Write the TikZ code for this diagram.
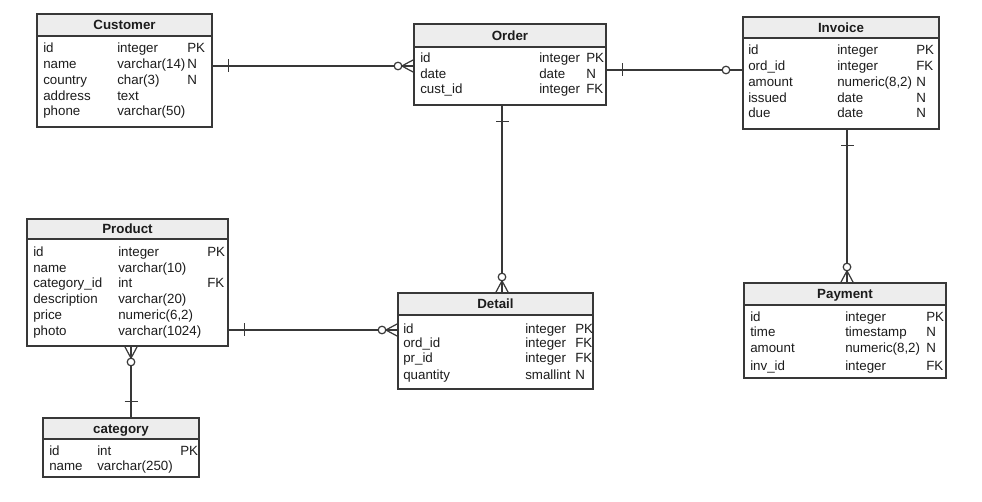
\documentclass[tikz,border=0pt]{standalone}
\usepackage{fontspec}
\setmainfont{Liberation Sans}
\usetikzlibrary{calc}

\definecolor{edgec}{HTML}{383838}
\definecolor{hdrc}{HTML}{EDEDED}
\definecolor{txtc}{HTML}{1C1C1C}

% entity box: #1 name, #2 x1, #3 y1, #4 x2, #5 y2, #6 header bottom, #7 title
\newcommand\erentity[7]{%
  \fill[hdrc] (#2,#3) rectangle (#4,#6);
  \node[entity, minimum width={0.75pt*(#4-#2)}, minimum height={0.75pt*(#5-#3)}]
    (#1) at (#2,#3) {};
  \draw[boxline] (#1.west |- 0,#6) -- (#1.east |- 0,#6);
  \node[title] (#1-title) at ({(#2+#4)/2},{(#3+#6)/2+4.6}) {#7};
}
% column positions of the current entity
\newcommand\ercols[3]{\def\erColA{#1}\def\erColB{#2}\def\erColC{#3}}
% one attribute row: #1 entity, #2 index, #3 baseline, #4 name, #5 type, #6 key
\newcommand\errow[6]{%
  \node[cell] (#1-#2a) at (\erColA,#3) {#4};
  \node[cell] (#1-#2b) at (\erColB,#3) {#5};
  \node[cell] (#1-#2c) at (\erColC,#3) {#6};
}

\begin{document}
\begin{tikzpicture}[x=0.75pt,y=-0.75pt,
  boxline/.style={draw=edgec, line width=0.9pt},
  entity/.style={boxline, inner sep=0pt, outer sep=0pt, anchor=north west},
  title/.style={font=\fontsize{10}{12}\selectfont\bfseries, text=txtc, inner sep=0pt, anchor=base},
  cell/.style={font=\fontsize{10}{12}\selectfont, text=txtc, inner sep=0pt, anchor=base west},
  rel/.style={draw=edgec, line width=0.9pt},
  onebar/.pic={\draw[rel] (16.5,-6.5) -- (16.5,6.5);},
  crowzero/.pic={\draw[rel] (0,-6.5) -- (12.2,0) -- (0,6.5);
                 \draw[rel, fill=white] (16,0) circle[radius=3.8];},
  zeroone/.pic={\draw[rel, fill=white] (17,0) circle[radius=3.8];}
]
\fill[white] (0,0) rectangle (982,502);
\useasboundingbox (0,0) rectangle (982,502);

% ---- entities ----
\erentity{cust}{37}{14}{212}{127}{36}{Customer}
\ercols{43}{117}{187}
\errow{cust}{1}{53}{id}{integer}{PK}
\errow{cust}{2}{69}{name}{varchar(14)}{N}
\errow{cust}{3}{85}{country}{char(3)}{N}
\errow{cust}{4}{101}{address}{text}{}
\errow{cust}{5}{116}{phone}{varchar(50)}{}

\erentity{order}{414}{24}{606}{105}{47}{Order}
\ercols{420}{539}{586}
\errow{order}{1}{63}{id}{integer}{PK}
\errow{order}{2}{78.5}{date}{date}{N}
\errow{order}{3}{94}{cust\_id}{integer}{FK}

\erentity{inv}{743}{17}{939}{129}{38}{Invoice}
\ercols{748}{837}{916}
\errow{inv}{1}{55}{id}{integer}{PK}
\errow{inv}{2}{71}{ord\_id}{integer}{FK}
\errow{inv}{3}{87}{amount}{numeric(8,2)}{N}
\errow{inv}{4}{102.5}{issued}{date}{N}
\errow{inv}{5}{118}{due}{date}{N}

\erentity{prod}{27}{219}{228}{346}{239}{Product}
\ercols{33}{118}{207}
\errow{prod}{1}{257}{id}{integer}{PK}
\errow{prod}{2}{272.5}{name}{varchar(10)}{}
\errow{prod}{3}{288}{category\_id}{int}{FK}
\errow{prod}{4}{304}{description}{varchar(20)}{}
\errow{prod}{5}{320}{price}{numeric(6,2)}{}
\errow{prod}{6}{335}{photo}{varchar(1024)}{}

\erentity{det}{398}{293}{593}{389}{315}{Detail}
\ercols{403}{525}{575}
\errow{det}{1}{334}{id}{integer}{PK}
\errow{det}{2}{348}{ord\_id}{integer}{FK}
\errow{det}{3}{363}{pr\_id}{integer}{FK}
\errow{det}{4}{379}{quantity}{smallint}{N}

\erentity{cat}{43}{418}{199}{477}{439}{category}
\ercols{49}{97}{180}
\errow{cat}{1}{455}{id}{int}{PK}
\errow{cat}{2}{470}{name}{varchar(250)}{}

\erentity{pay}{744}{283}{946}{378}{305}{Payment}
\ercols{750}{845}{926}
\errow{pay}{1}{322}{id}{integer}{PK}
\errow{pay}{2}{337}{time}{timestamp}{N}
\errow{pay}{3}{353}{amount}{numeric(8,2)}{N}
\errow{pay}{4}{370}{inv\_id}{integer}{FK}

% ---- relationships ----
% Customer 1 -- 0..* Order
\draw[rel] (cust.east |- 0,66) -- (order.west |- 0,66);
\pic at (cust.east |- 0,66) {onebar};
\pic[rotate=180] at (order.west |- 0,66) {crowzero};

% Order 1 -- 0..1 Invoice
\draw[rel] (order.east |- 0,70) -- (inv.west |- 0,70);
\pic at (order.east |- 0,70) {onebar};
\pic[rotate=180] at (inv.west |- 0,70) {zeroone};

% Order 1 -- 0..* Detail
\draw[rel] (order.south -| 502,0) -- (det.north -| 502,0);
\pic[rotate=-90] at (order.south -| 502,0) {onebar};
\pic[rotate=90] at (det.north -| 502,0) {crowzero};

% Invoice 1 -- 0..* Payment
\draw[rel] (inv.south -| 847,0) -- (pay.north -| 847,0);
\pic[rotate=-90] at (inv.south -| 847,0) {onebar};
\pic[rotate=90] at (pay.north -| 847,0) {crowzero};

% Product 1 -- 0..* Detail
\draw[rel] (prod.east |- 0,330) -- (det.west |- 0,330);
\pic at (prod.east |- 0,330) {onebar};
\pic[rotate=180] at (det.west |- 0,330) {crowzero};

% category 1 -- 0..* Product
\draw[rel] (prod.south -| 131,0) -- (cat.north -| 131,0);
\pic[rotate=-90] at (prod.south -| 131,0) {crowzero};
\pic[rotate=90] at (cat.north -| 131,0) {onebar};
\end{tikzpicture}
\end{document}
